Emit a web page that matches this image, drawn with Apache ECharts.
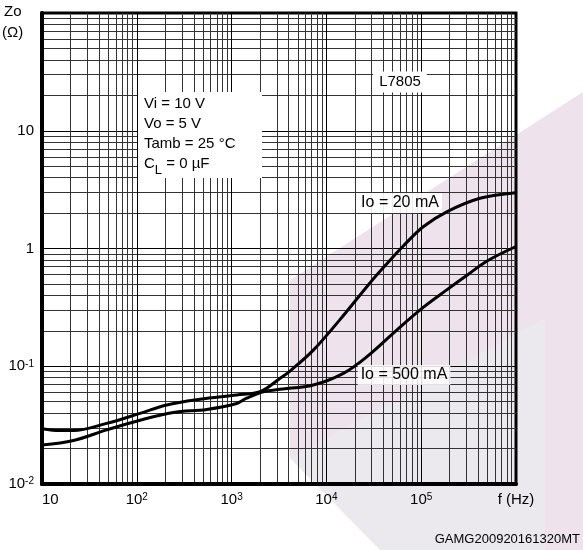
<!DOCTYPE html>
<html>
<head>
<meta charset="utf-8">
<script src="https://cdn.jsdelivr.net/npm/echarts@6/dist/echarts.min.js"></script>
<style>
  html, body { margin: 0; padding: 0; background: #fff; }
  #chart { width: 583px; height: 550px; }
</style>
</head>
<body>
<div id="chart"></div>
<script>
// Io = 20 mA curve (frequency in Hz, Zo in ohm)
var freq20 = [10, 15.5, 21.4, 48, 108, 207, 465, 1130, 2000, 3250, 4130, 7280, 13900, 28800, 43300, 64700, 105000, 186000, 417000, 1000000];
var zo20 = [0.0295, 0.0284, 0.0284, 0.0327, 0.0398, 0.0469, 0.0524, 0.057, 0.0608, 0.079, 0.091, 0.137, 0.249, 0.51, 0.74, 1.05, 1.53, 2.05, 2.67, 2.98];

// Io = 500 mA curve
var freq500 = [10, 21.4, 48, 108, 243, 546, 1130, 1440, 2160, 3250, 7280, 15100, 26600, 55200, 105000, 186000, 302000, 491000, 1000000];
var zo500 = [0.0214, 0.0234, 0.0288, 0.0348, 0.0405, 0.043, 0.0483, 0.0535, 0.0608, 0.0637, 0.0693, 0.087, 0.12, 0.203, 0.316, 0.445, 0.59, 0.78, 1.04];

var xTickLabels = { 10: '10', 100: '10{s|2}', 1000: '10{s|3}', 10000: '10{s|4}', 100000: '10{s|5}', 1000000: 'f (Hz)' };
var yTickLabels = { 0.01: '10{s|-2}', 0.1: '10{s|-1}', 1: '1', 10: '10', 100: '' };

var conditions = ['Vi = 10 V', 'Vo = 5 V', 'Tamb = 25 °C', 'C{sub|L} = 0 µF'];

var FONT = '"Liberation Sans", Arial, sans-serif';

function pairs(xs, ys) {
  return xs.map(function(x, i) { return [x, ys[i]]; });
}

function lookup(table) {
  return function(v) {
    var key = Object.keys(table).filter(function(k) {
      return Math.abs(Math.log10(+k) - Math.log10(v)) < 1e-6;
    })[0];
    return key === undefined ? '' : table[key];
  };
}

var labelRich = {
  s: { fontSize: 10, fontFamily: FONT, color: '#000', verticalAlign: 'top', lineHeight: 10 }
};

var chart = echarts.init(document.getElementById('chart'));

var option = {
  animation: false,
  backgroundColor: '#fff',
  textStyle: { fontFamily: FONT },
  grid: {
    left: 42, right: 67, top: 13, bottom: 66,
    show: true,
    borderColor: '#000',
    borderWidth: 3,
    backgroundColor: 'transparent'
  },
  xAxis: {
    type: 'log',
    logBase: 10,
    min: 10,
    max: 1000000,
    axisLine: { show: true, lineStyle: { color: '#000', width: 4 } },
    axisTick: { show: false },
    minorTick: { show: false, splitNumber: 9 },
    splitLine: { show: true, lineStyle: { color: '#000', width: 1 } },
    minorSplitLine: { show: true, lineStyle: { color: '#333', width: 1 } },
    axisLabel: {
      margin: 8,
      fontSize: 15,
      color: '#000',
      fontFamily: FONT,
      alignMinLabel: 'left',
      formatter: lookup(xTickLabels),
      rich: labelRich
    }
  },
  yAxis: {
    type: 'log',
    logBase: 10,
    min: 0.01,
    max: 100,
    axisLine: { show: true, lineStyle: { color: '#000', width: 4 } },
    axisTick: { show: false },
    minorTick: { show: false, splitNumber: 9 },
    splitLine: { show: true, lineStyle: { color: '#000', width: 1 } },
    minorSplitLine: { show: true, lineStyle: { color: '#333', width: 1 } },
    axisLabel: {
      margin: 8,
      fontSize: 15,
      color: '#000',
      fontFamily: FONT,
      formatter: lookup(yTickLabels),
      rich: labelRich
    }
  },
  series: [
    {
      name: 'Io = 20 mA',
      type: 'line',
      smooth: 0.35,
      symbol: 'none',
      lineStyle: { color: '#000', width: 3 },
      data: pairs(freq20, zo20),
      z: 5
    },
    {
      name: 'Io = 500 mA',
      type: 'line',
      smooth: 0.35,
      symbol: 'none',
      lineStyle: { color: '#000', width: 3 },
      data: pairs(freq500, zo500),
      z: 5
    }
  ],
  graphic: [
    // faint logo watermark behind the plot
    {
      type: 'polygon', z: -10, silent: true,
      shape: { points: [[290, 280], [583, 92], [583, 550], [290, 550]] },
      style: { fill: '#eee2ec' }
    },
    {
      type: 'polygon', z: -9, silent: true,
      shape: { points: [[290, 458], [545, 318], [545, 550], [380, 550]] },
      style: { fill: '#ebe8ee' }
    },
    {
      type: 'polygon', z: -9, silent: true,
      shape: { points: [[290, 458], [380, 550], [290, 550]] },
      style: { fill: '#ffffff' }
    },
    // axis titles
    {
      type: 'text', left: 4, top: 4, z: 20,
      style: { text: 'Zo', font: '15px ' + FONT, fill: '#000' }
    },
    {
      type: 'text', left: 2, top: 25, z: 20,
      style: { text: '(Ω)', font: '15px ' + FONT, fill: '#000' }
    },
    // test conditions box
    {
      type: 'rect', z: 20,
      shape: { x: 138, y: 92, width: 124, height: 86 },
      style: { fill: '#fff' }
    },
    {
      type: 'text', left: 144, top: 94, z: 21,
      style: {
        text: conditions.join('\n'),
        font: '15px ' + FONT,
        fill: '#000',
        lineHeight: 20,
        rich: {
          sub: { fontSize: 13, verticalAlign: 'bottom', lineHeight: 14, padding: [0, 0, -3, 0] }
        }
      }
    },
    // device name
    {
      type: 'text', x: 400, y: 82, z: 21,
      style: {
        text: 'L7805', font: '15px ' + FONT, fill: '#000',
        align: 'center', verticalAlign: 'middle',
        backgroundColor: '#fff', padding: [3, 6, 3, 6]
      }
    },
    // curve labels
    {
      type: 'text', x: 400, y: 203, z: 21,
      style: {
        text: 'Io = 20 mA', font: '16px ' + FONT, fill: '#000',
        align: 'center', verticalAlign: 'middle',
        backgroundColor: 'rgba(255,255,255,0.9)', padding: [2, 3, 2, 3]
      }
    },
    {
      type: 'text', x: 404, y: 375, z: 21,
      style: {
        text: 'Io = 500 mA', font: '16px ' + FONT, fill: '#000',
        align: 'center', verticalAlign: 'middle',
        backgroundColor: 'rgba(255,255,255,0.85)', padding: [2, 3, 2, 3]
      }
    },
    // figure reference
    {
      type: 'text', right: 3, top: 533, z: 20,
      style: { text: 'GAMG200920161320MT', font: '13px ' + FONT, fill: '#000' }
    }
  ]
};

chart.setOption(option);
</script>
</body>
</html>
